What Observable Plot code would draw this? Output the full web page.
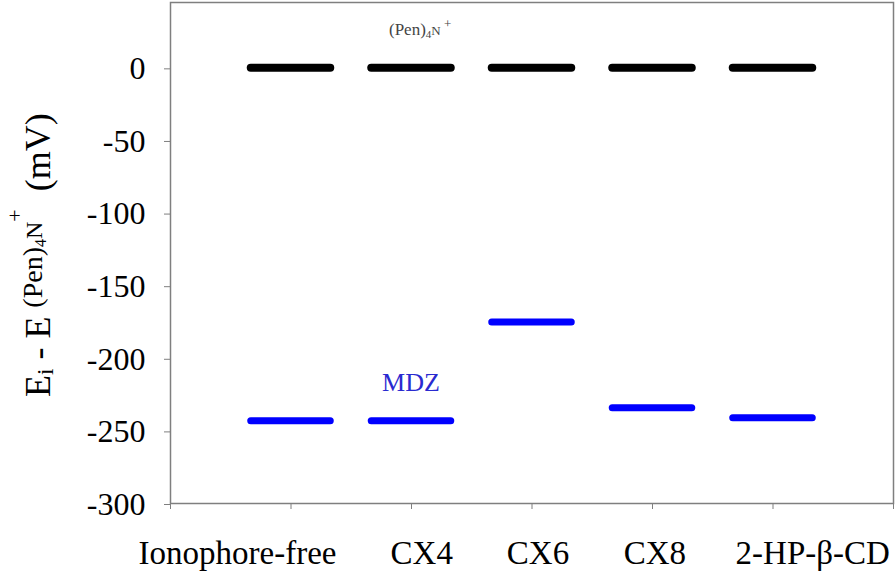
<!DOCTYPE html>
<html><head><meta charset="utf-8">
<script src="https://cdn.jsdelivr.net/npm/d3@7"></script>
<script src="https://cdn.jsdelivr.net/npm/@observablehq/plot@0.6"></script>
<style>body{margin:0;background:#fff} svg{display:block}
svg, svg text { font-family: "Liberation Serif", "Times New Roman", Tinos, "DejaVu Serif", "Noto Serif", serif; }</style>
</head><body><div id="chart"></div>
<script>
// ---- data ----
const categories = ["Ionophore-free", "CX4", "CX6", "CX8", "2-HP-β-CD"];
const pen4NValues = [0, 0, 0, 0, 0];
const mdzValues = [-243, -243, -175, -234, -241];
const yTickValues = [0, -50, -100, -150, -200, -250, -300];

// ---- layout ----
const table = categories.map((c, i) => ({cat: c, pos: i + 1, pen: pen4NValues[i], mdz: mdzValues[i]}));
const slotTicks = d3.range(0, categories.length + 2);
const halfLen = 0.33;
const labelShift = [-0.444, 0.085, 0.05, 0.02, 0.33];
const serif = "Liberation Serif, Times New Roman, Tinos, DejaVu Serif, serif";

const plot = Plot.plot({
  width: 896, height: 577,
  marginLeft: 170, marginRight: 3, marginTop: 2, marginBottom: 74,
  x: {domain: [0, categories.length + 1]},
  y: {domain: [-300, 45]},
  style: {fontFamily: serif, fontSize: "33px", color: "black", background: "white"},
  marks: [
    Plot.frame({stroke: "#7f7f7f", strokeWidth: 1.5}),
    Plot.axisY({ticks: yTickValues, tickSize: 6, tickPadding: 19, stroke: "#7f7f7f", fill: "black",
      label: null, fontSize: 32, dy: 1, tickFormat: d => String(d)}),
    Plot.axisX({ticks: slotTicks, tickSize: 6, tickFormat: () => "", stroke: "#7f7f7f", label: null}),
    Plot.ruleY(table, {x1: d => d.pos - halfLen, x2: d => d.pos + halfLen, y: "pen",
      stroke: "black", strokeWidth: 8, strokeLinecap: "round"}),
    Plot.ruleY(table, {x1: d => d.pos - halfLen, x2: d => d.pos + halfLen, y: "mdz",
      stroke: "#0000ff", strokeWidth: 7, strokeLinecap: "round"}),
    Plot.text(table, {x: (d, i) => d.pos + labelShift[i], y: () => -300, text: "cat",
      dy: 50, fontSize: 33, fill: "black"})
  ]
});
document.getElementById("chart").appendChild(plot);

const xs = plot.scale("x"), ys = plot.scale("y");
const svg = d3.select(plot);

// y-axis title
const yl = svg.append("text")
  .attr("transform", "translate(50,397) rotate(-90)")
  .attr("text-anchor", "start")
  .attr("font-size", 36).attr("fill", "black")
  .attr("style", "white-space:pre");
yl.append("tspan").text("E");
yl.append("tspan").attr("font-size", 23).attr("dy", 3).text("i");
yl.append("tspan").attr("dy", -3).text(" - E ");
yl.append("tspan").attr("font-size", 28).attr("dy", -8).text("(Pen)");
yl.append("tspan").attr("font-size", 16).attr("dy", 4).text("4");
yl.append("tspan").attr("font-size", 24).attr("dy", -4).text("N");
yl.append("tspan").attr("font-size", 22).attr("dy", -20).text("+");
yl.append("tspan").attr("dy", 28).text("  (mV)");

// series annotations
const penLbl = svg.append("text")
  .attr("x", xs.apply(2) - 22).attr("y", ys.apply(pen4NValues[1]) - 32)
  .attr("text-anchor", "start")
  .attr("font-size", 17).attr("fill", "#444");
penLbl.append("tspan").text("(Pen)");
penLbl.append("tspan").attr("font-size", 11).attr("dy", 3).text("4");
penLbl.append("tspan").attr("font-size", 13).attr("dy", -3).text("N");
penLbl.append("tspan").attr("font-size", 13).attr("dy", -7).text(" +");

svg.append("text")
  .attr("x", xs.apply(2)).attr("y", ys.apply(mdzValues[1]) - 29)
  .attr("text-anchor", "middle")
  .attr("font-size", 26).attr("fill", "#2a2ad0")
  .text("MDZ");
</script>
</body></html>
